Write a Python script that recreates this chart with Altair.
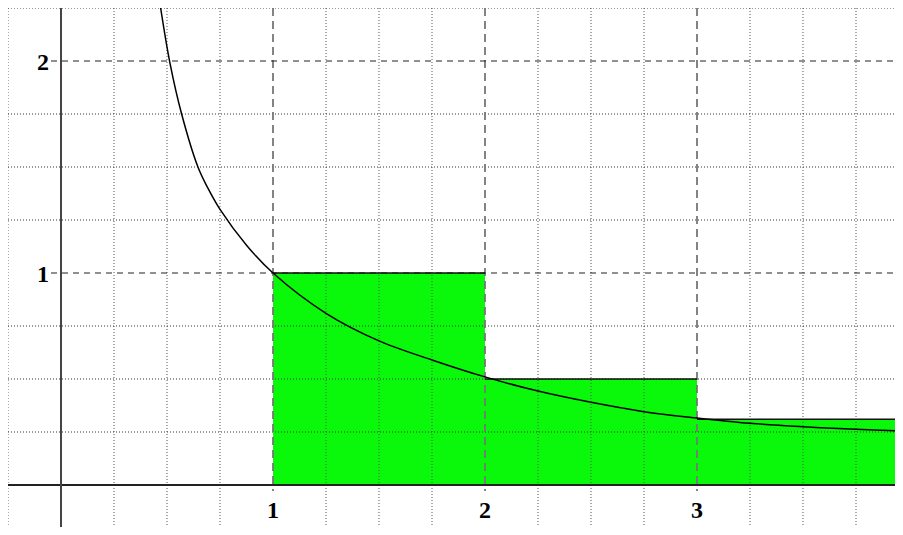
import altair as alt
import pandas as pd

# ---- data ----
curve_x = [0.470, 0.514, 0.569, 0.646, 0.693, 0.75, 0.876, 1.0, 1.25, 1.5, 1.75, 2.0,
           2.25, 2.5, 2.75, 3.0, 3.25, 3.5, 3.75, 3.97]
curve_y = [2.25, 1.99, 1.75, 1.50, 1.40, 1.30, 1.13, 1.0, 0.81, 0.68, 0.59, 0.51,
           0.443, 0.39, 0.346, 0.316, 0.291, 0.275, 0.263, 0.255]

rect_x0 = [1, 2, 3]
rect_x1 = [2, 3, 4.2]
rect_h = [1.0, 0.5, 0.31]

minor_x = [-0.25, 0.25, 0.5, 0.75, 1.25, 1.5, 1.75, 2.25, 2.5, 2.75, 3.25, 3.5, 3.75]
minor_y = [-0.25, 0.25, 0.5, 0.75, 1.25, 1.5, 1.75, 2.25]
major_x = [1, 2, 3]
major_y = [1, 2]

x_labels = ["1", "2", "3"]
x_label_pos = [1, 2, 3]
y_labels = ["1", "2"]
y_label_pos = [1, 2]

W, H = 887, 519
xs = alt.Scale(domain=[-0.25, -0.25 + W / 212], nice=False, zero=False)
ys = alt.Scale(domain=[2.25 - H / 212, 2.25], nice=False, zero=False)

curve_df = pd.DataFrame({"x": curve_x, "y": curve_y})
rect_df = pd.DataFrame({"x0": rect_x0, "x1": rect_x1, "h": rect_h})

rects = alt.Chart(rect_df).mark_rect(color="#0af80a", clip=True).encode(
    x=alt.X("x0:Q", scale=xs, axis=None),
    x2="x1:Q",
    y=alt.Y("h:Q", scale=ys, axis=None),
    y2=alt.datum(0),
)

dot_v = alt.Chart(pd.DataFrame({"v": minor_x})).mark_rule(
    color="#555555", strokeWidth=1, strokeDash=[1, 2], clip=True
).encode(x=alt.X("v:Q", scale=xs, axis=None), y=alt.value(0), y2=alt.value(H))

dot_h = alt.Chart(pd.DataFrame({"v": minor_y})).mark_rule(
    color="#333333", strokeWidth=1, strokeDash=[1, 2], clip=True
).encode(y=alt.Y("v:Q", scale=ys, axis=None), x=alt.value(0), x2=alt.value(W))

dash_v = alt.Chart(pd.DataFrame({"v": major_x})).mark_rule(
    color="#777777", strokeWidth=1.8, strokeDash=[8, 5], clip=True
).encode(x=alt.X("v:Q", scale=xs, axis=None), y=alt.value(0), y2=alt.value(483))

dash_h = alt.Chart(pd.DataFrame({"v": major_y})).mark_rule(
    color="#222222", strokeWidth=1.2, strokeDash=[6, 5], clip=True
).encode(y=alt.Y("v:Q", scale=ys, axis=None), x=alt.value(43), x2=alt.value(W))

x_axis = alt.Chart(pd.DataFrame({"v": [0]})).mark_rule(
    color="#222222", strokeWidth=1.8, clip=True
).encode(y=alt.Y("v:Q", scale=ys, axis=None), x=alt.value(0), x2=alt.value(W))

y_axis = alt.Chart(pd.DataFrame({"v": [0]})).mark_rule(
    color="#444444", strokeWidth=2, clip=True
).encode(x=alt.X("v:Q", scale=xs, axis=None), y=alt.value(0), y2=alt.value(H))

tops = alt.Chart(rect_df).mark_rule(color="#111111", strokeWidth=1.6, clip=True).encode(
    x=alt.X("x0:Q", scale=xs, axis=None),
    x2="x1:Q",
    y=alt.Y("h:Q", scale=ys, axis=None),
)

curve = alt.Chart(curve_df).mark_line(
    color="black", strokeWidth=1.5, interpolate="catmull-rom", clip=True
).encode(
    x=alt.X("x:Q", scale=xs, axis=None),
    y=alt.Y("y:Q", scale=ys, axis=None),
)

xl = alt.Chart(pd.DataFrame({"p": x_label_pos, "t": x_labels})).mark_text(
    font="Liberation Serif", fontWeight="bold", fontSize=24,
    align="center", baseline="middle", dy=26
).encode(
    x=alt.X("p:Q", scale=xs, axis=None),
    y=alt.Y("z:Q", scale=ys, axis=None),
    text="t:N",
).transform_calculate(z="0")

yl = alt.Chart(pd.DataFrame({"p": y_label_pos, "t": y_labels})).mark_text(
    font="Liberation Serif", fontWeight="bold", fontSize=24,
    align="center", baseline="middle", dx=-18, dy=2
).encode(
    y=alt.Y("p:Q", scale=ys, axis=None),
    x=alt.X("z:Q", scale=xs, axis=None),
    text="t:N",
).transform_calculate(z="0")

chart = alt.layer(
    rects, dot_v, dot_h, dash_v, dash_h, x_axis, y_axis, tops, curve, xl, yl
).properties(
    width=W, height=H, autosize=alt.AutoSizeParams(type="none"), padding=0
).configure_view(stroke=None)

chart.save("out.html", embed_options={"renderer": "svg", "actions": False})
